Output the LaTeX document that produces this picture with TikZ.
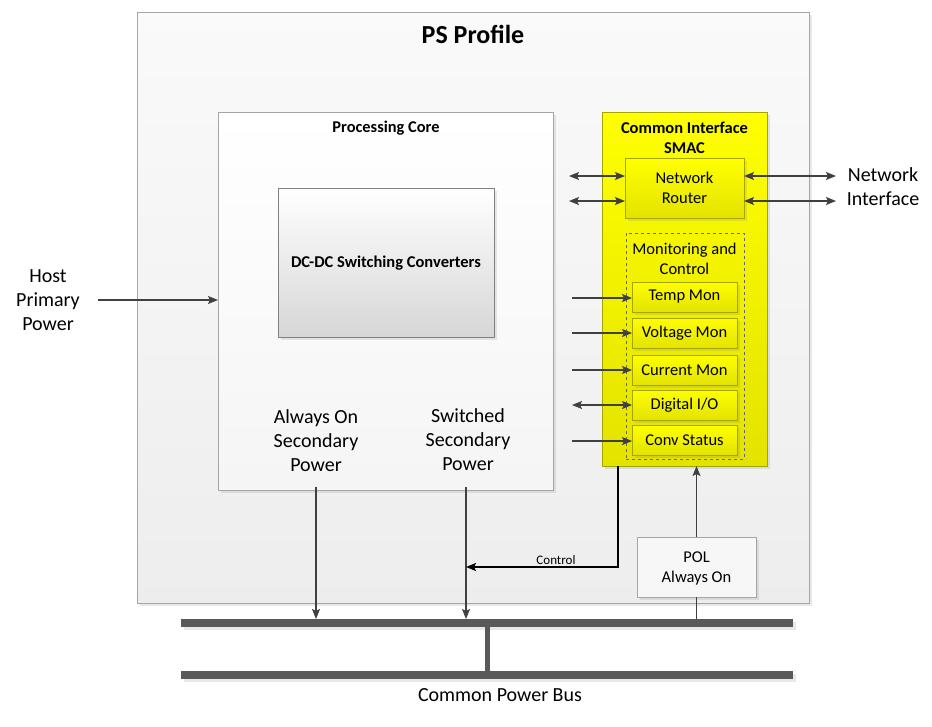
\documentclass[tikz,border=0pt]{standalone}
\usepackage{fontspec}
\setmainfont{Carlito}
\usetikzlibrary{arrows.meta,shadows}
\definecolor{edge}{HTML}{A6A6A6}
\definecolor{ink}{HTML}{404040}
\definecolor{busc}{HTML}{595959}
\definecolor{yel}{HTML}{FFFF00}
\definecolor{yeld}{HTML}{E3E300}
\definecolor{yedge}{HTML}{A5A500}
\tikzset{
  vtip/.tip={Stealth[length=10pt,width=8pt,inset=2pt]},
  shd/.style={drop shadow={opacity=0.18,shadow xshift=2.5pt,shadow yshift=-2.5pt}},
  box/.style={rectangle,draw=edge,line width=0.8pt,inner sep=0pt,outer sep=0pt},
  ybox/.style={box,draw=yedge,top color=yel,bottom color=yeld,shd},
  big/.style={font=\fontsize{20}{24}\selectfont,align=center},
  mid/.style={font=\fontsize{16.5}{20}\selectfont,align=center},
  midb/.style={font=\fontsize{16.5}{20}\selectfont\bfseries,align=center},
  conn/.style={draw=ink,line width=1.3pt,-{vtip}},
  bidir/.style={draw=ink,line width=1.3pt,{vtip}-{vtip}},
  plain/.style={draw=ink,line width=1.3pt},
  bus/.style={rectangle,fill=busc,inner sep=0pt,outer sep=0pt,minimum width=612pt,minimum height=8pt,shd}
}
\begin{document}
\begin{tikzpicture}[x=1pt,y=-1pt]
\useasboundingbox[fill=white] (0,0) rectangle (932,726);

% outer PS Profile box
\node[box,minimum width=672pt,minimum height=591pt,top color=black!2,bottom color=black!7,shd] (ps) at (473,307.5) {};
\node[font=\fontsize{26}{30}\selectfont\bfseries] (pstitle) at (473,34) {PS Profile};

% processing core
\node[box,minimum width=335pt,minimum height=378pt,top color=white,bottom color=black!4,shd] (core) at (385.5,301) {};
\node[font=\fontsize{16.4}{20}\selectfont\bfseries] (coretitle) at (386,128) {Processing Core};
\node[box,draw=black!50,minimum width=216pt,minimum height=149pt,top color=white,bottom color=black!16,shd] (dcdc) at (386,262.5) {};
\node[midb] (dctext) at (386,263) {DC-DC Switching Converters};

\node[big] (aon) at (316,441) {Always On\\Secondary\\Power};
\node[big] (sw) at (468,440) {Switched\\Secondary\\Power};

% host primary power
\node[big] (host) at (48,300) {Host\\Primary\\Power};
\coordinate (hostend) at (98,300);
\draw[conn] (hostend) -- (hostend -| core.west);

% common interface SMAC
\node[ybox,minimum width=165pt,minimum height=354pt] (smac) at (684.5,289) {};
\node[midb] (smactitle) at (684.5,138) {Common Interface\\SMAC};
\node[ybox,minimum width=119pt,minimum height=60pt] (router) at (684.5,188) {};
\node[mid] (routertext) at (684.5,188) {Network\\Router};

\node[box,draw=black!60,dashed,line width=0.7pt,minimum width=118pt,minimum height=226pt] (mon) at (685,346) {};
\node[mid] (montitle) at (684.5,259) {Monitoring and\\Control};

\node[ybox,minimum width=105pt,minimum height=30pt] (temp) at (684.5,297) {};
\node[mid] at (temp) {Temp Mon};
\node[ybox,minimum width=105pt,minimum height=30pt] (volt) at (684.5,333) {};
\node[mid] at (volt) {Voltage Mon};
\node[ybox,minimum width=105pt,minimum height=30pt] (curr) at (684.5,370) {};
\node[mid] at (curr) {Current Mon};
\node[ybox,minimum width=105pt,minimum height=30pt] (dig) at (684.5,405) {};
\node[mid] at (dig) {Digital I/O};
\node[ybox,minimum width=105pt,minimum height=30pt] (conv) at (684.5,440) {};
\node[mid] at (conv) {Conv Status};

% router connectors
\coordinate (rl1) at (569,176);
\coordinate (rl2) at (569,201);
\coordinate (rr1) at (836,176);
\coordinate (rr2) at (836,201);
\draw[bidir] (rl1) -- (rl1 -| router.west);
\draw[bidir] (rl2) -- (rl2 -| router.west);
\draw[bidir] (rr1 -| router.east) -- (rr1);
\draw[bidir] (rr2 -| router.east) -- (rr2);
\node[big] (netif) at (883,187) {Network\\Interface};

% monitor inputs
\coordinate (mt) at (572,298);
\coordinate (mv) at (572,333);
\coordinate (mc) at (572,370);
\coordinate (md) at (572,405);
\coordinate (ms) at (572,441);
\draw[conn] (mt) -- (mt -| temp.west);
\draw[conn] (mv) -- (mv -| volt.west);
\draw[conn] (mc) -- (mc -| curr.west);
\draw[bidir] (md) -- (md -| dig.west);
\draw[conn] (ms) -- (ms -| conv.west);

% POL
\node[box,minimum width=119pt,minimum height=60pt,fill=black!3,shd] (pol) at (696.5,567) {};
\node[mid] (poltext) at (696.5,568) {POL\\Always On};

% buses
\node[bus] (bustop) at (487,623) {};
\node[bus] (busbot) at (487,675) {};
\draw[busc,line width=5pt] (bustop.south -| 487,0) -- (busbot.north -| 487,0);
\node[big] (busname) at (500,695) {Common Power Bus};

% secondary outputs
\coordinate (aonsrc) at (316,487);
\coordinate (swsrc) at (466,487);
\draw[conn] (aonsrc) -- (aonsrc |- bustop.north);
\draw[conn] (swsrc) -- (swsrc |- bustop.north);

% control
\coordinate (ctlbend) at (618,567);
\draw[draw=black,line width=1.8pt,-{vtip}] (smac.south -| ctlbend) -- (ctlbend) -- (ctlbend -| swsrc);
\node[font=\fontsize{13}{15}\selectfont] (ctllabel) at (556,560) {Control};

% POL links
\draw[conn] (pol.north) -- (pol.north |- smac.south);
\draw[plain] (pol.south) -- (pol.south |- bustop.north);
\end{tikzpicture}
\end{document}
